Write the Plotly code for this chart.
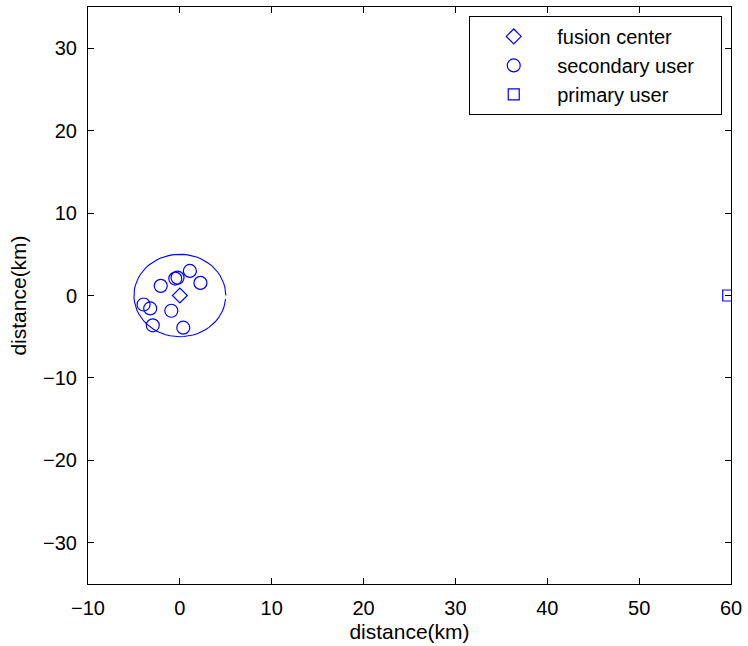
import numpy as np
import plotly.graph_objects as go

# Network layout (km)
fusion_x = [0.0]
fusion_y = [0.0]

secondary_x = [-2.08, -0.50, -0.25, 1.09, 2.24, -3.95, -3.23, -0.93, -2.95, 0.37]
secondary_y = [1.17, 2.05, 2.17, 2.98, 1.53, -1.09, -1.57, -1.85, -3.62, -3.90]

primary_x = [59.7]
primary_y = [0.0]

cluster_radius = 5.0
x_ticks = [-10, 0, 10, 20, 30, 40, 50, 60]
y_ticks = [-30, -20, -10, 0, 10, 20, 30]

BLUE = "rgb(0,0,255)"
FONT = "Liberation Sans, Arial, Helvetica, sans-serif"
PAD = "\u00a0" * 4  # keeps the legend box a little wider than its text

# cluster boundary, sampled every 0.1 rad (open curve)
theta = np.arange(0, 2 * np.pi, 0.1)
ring_x = cluster_radius * np.cos(theta)
ring_y = cluster_radius * np.sin(theta)

fig = go.Figure()

fig.add_trace(go.Scatter(
    x=fusion_x, y=fusion_y, mode="markers", name="fusion center",
    marker=dict(symbol="diamond-open", size=11.5, color=BLUE, line=dict(width=1.2, color=BLUE)),
))
fig.add_trace(go.Scatter(
    x=secondary_x, y=secondary_y, mode="markers", name="secondary user" + PAD,
    marker=dict(symbol="circle-open", size=13, color=BLUE, line=dict(width=1.2, color=BLUE)),
))
fig.add_trace(go.Scatter(
    x=primary_x, y=primary_y, mode="markers", name="primary user",
    marker=dict(symbol="square-open", size=11, color=BLUE, line=dict(width=1.2, color=BLUE)),
))
fig.add_trace(go.Scatter(
    x=ring_x, y=ring_y, mode="lines", showlegend=False,
    line=dict(color=BLUE, width=1.1),
))

axis_common = dict(
    showgrid=False, zeroline=False,
    showline=True, linecolor="black", linewidth=1,
    mirror="ticks", ticks="inside", ticklen=6, tickwidth=1, tickcolor="black",
    tickfont=dict(family=FONT, size=20, color="black"),
)

fig.update_xaxes(
    range=[-10, 60], tickvals=x_ticks, ticktext=[f"{v}".replace("-", "\u2212") for v in x_ticks],
    title=dict(text="distance(km)", font=dict(family=FONT, size=21, color="black"), standoff=6),
    ticklabelstandoff=6,
    **axis_common,
)
fig.update_yaxes(
    range=[-35, 35], tickvals=y_ticks, ticktext=[f"{v}".replace("-", "\u2212") for v in y_ticks],
    title=dict(text="distance(km)", font=dict(family=FONT, size=21, color="black"), standoff=10),
    ticklabelstandoff=6,
    **axis_common,
)

fig.update_layout(
    width=748, height=646,
    margin=dict(l=87.5, r=12, t=6, b=59),
    paper_bgcolor="white", plot_bgcolor="white",
    legend=dict(
        x=(472 - 87.5) / 648.5, y=(587 - 15) / 581, xanchor="left", yanchor="top",
        bgcolor="white", bordercolor="black", borderwidth=1,
        font=dict(family=FONT, size=20, color="black"),
        itemwidth=77, tracegroupgap=0,
    ),
)

fig.write_html("out.html")
